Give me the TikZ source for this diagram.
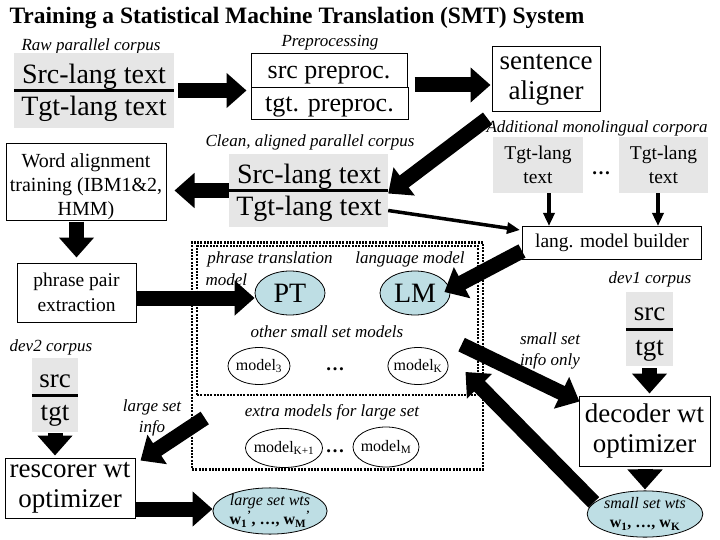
\documentclass[tikz,border=0pt]{standalone}
\usepackage{fontspec}
\setmainfont{Liberation Serif}
\usetikzlibrary{arrows.meta,shapes.geometric}
\definecolor{corpusgray}{RGB}{230,230,230}
\definecolor{wtblue}{RGB}{190,222,228}
\newcommand{\fsz}[2]{\fontsize{#1}{#2}\selectfont}
\begin{document}
\begin{tikzpicture}[x=1pt, y=-1pt,
    fat/.style={line width=15pt, -{Triangle[length=20pt,width=34pt]}},
    slim/.style={line width=3.5pt, -{Triangle[length=13pt,width=11pt]}},
    lab/.style={font=\fsz{17}{21}\itshape},
    box/.style={draw, line width=1pt, align=center, inner sep=0pt},
    corpus/.style={fill=corpusgray, inner sep=0pt},
    big/.style={anchor=base, font=\fsz{28}{32}},
    model/.style={ellipse, draw, line width=0.8pt, inner xsep=-3pt, inner ysep=0pt, font=\fsz{16}{18}},
    wts/.style={ellipse, draw, line width=0.8pt, fill=wtblue, inner sep=0pt, align=center},
    dotbox/.style={draw, line width=2.5pt, dash pattern=on 2pt off 1.3pt, inner sep=0pt}]
    \useasboundingbox (0,0) rectangle (720,540);
    \node[anchor=west, font=\fsz{23.5}{26}\bfseries] (title) at (6,18) {Training a Statistical Machine Translation (SMT) System};

    \node[lab] (rawlab) at (91,46) {Raw parallel corpus};
    \node[corpus, minimum width=160pt, minimum height=75pt] (raw) at (94,90.5) {};
    \node[big] (rawsrc) at (94,84) {Src-lang text};
    \node[big] (rawtgt) at (94,116) {Tgt-lang text};
    \draw[line width=3pt] (raw.west) -- (raw.east);

    \node[lab] (prelab) at (330,43) {Preprocessing};
    \node[box, minimum width=156pt, minimum height=34pt, text height=21pt, text depth=5pt, font=\fsz{26}{28}] (pre1) at (329,71) {src preproc.};
    \node[box, minimum width=157pt, minimum height=32pt, text height=21pt, text depth=5pt, font=\fsz{26}{28}] (pre2) at (329.5,104) {tgt. preproc.};
    \node[box, minimum width=108pt, minimum height=65pt, font=\fsz{27}{30}] (aligner) at (546,79.5) {sentence\\aligner};

    \node[lab] (cleanlab) at (310,142) {Clean, aligned parallel corpus};
    \node[corpus, minimum width=159pt, minimum height=73pt] (clean) at (308.5,190.5) {};
    \node[big] (cleansrc) at (309,184) {Src-lang text};
    \node[big] (cleantgt) at (309,215) {Tgt-lang text};
    \draw[line width=3pt] (clean.west) -- (clean.east);

    \node[box, minimum width=160pt, minimum height=76pt, font=\fsz{20}{24}] (wordal) at (86,182) {\rule{0pt}{24pt}Word alignment\\training (IBM1\&2,\\HMM)};
    \node[box, minimum width=119pt, minimum height=59pt, font=\fsz{19.5}{25}] (phrase) at (76.5,292.5) {phrase pair\\extraction};

    \node[lab] (monolab) at (597,128) {Additional monolingual corpora};
    \node[corpus, minimum width=90pt, minimum height=56pt, align=center, font=\fsz{19.5}{24}] (mono1) at (538,165) {Tgt-lang\\text};
    \node[corpus, minimum width=89pt, minimum height=56pt, align=center, font=\fsz{19.5}{24}] (mono2) at (663.5,165) {Tgt-lang\\text};
    \node[font=\fsz{19}{22}\bfseries] (monodots) at (601,173) {\ldots};
    \node[box, minimum width=179pt, minimum height=33pt, font=\fsz{19.5}{22}] (lmb) at (612,243) {lang. model builder};

    \node[dotbox, minimum width=291pt, minimum height=227pt] (extra) at (337.5,356) {};
    \node[dotbox, minimum width=281pt, minimum height=149pt] (small) at (337.5,320.5) {};
    \node[lab] (ptlab) at (270,259) {phrase translation};
    \node[lab, anchor=west] (ptlab2) at (202,280) {model};
    \node[lab] (lmlab) at (410,259) {language model};
    \node[wts, minimum width=70pt, minimum height=44pt, font=\fsz{28}{30}] (PT) at (290,293) {PT};
    \node[wts, minimum width=70pt, minimum height=44pt, font=\fsz{28}{30}] (LM) at (415,293) {LM};
    \node[lab] (otherlab) at (327,332) {other small set models};
    \node[model, minimum width=62pt, minimum height=37pt] (m3) at (259,366) {model\textsubscript{3}};
    \node[font=\fsz{19}{22}\bfseries] (smalldots) at (335,369) {\ldots};
    \node[model, minimum width=60pt, minimum height=37pt] (mK) at (418,366) {model\textsubscript{K}};
    \node[lab] (extralab) at (332,412) {extra models for large set};
    \node[model, minimum width=68pt, minimum height=39pt] (mK1) at (284,448) {model\textsubscript{K+1}};
    \node[font=\fsz{19}{22}\bfseries] (extradots) at (335,451) {\ldots};
    \node[model, minimum width=66pt, minimum height=40pt] (mM) at (386,447) {model\textsubscript{M}};

    \node[lab] (dev1lab) at (650,279) {dev1 corpus};
    \node[corpus, minimum width=47pt, minimum height=74pt] (dev1) at (649.5,329) {};
    \node[big, font=\fsz{27}{30}] (dev1src) at (649.5,320) {src};
    \node[big, font=\fsz{27}{30}] (dev1tgt) at (649.5,355) {tgt};
    \draw[line width=3pt] (dev1.west) -- (dev1.east);
    \node[box, minimum width=131pt, minimum height=70pt, font=\fsz{27}{30}] (dec) at (644.5,431) {decoder wt\\optimizer};
    \node[wts, font=\fsz{16}{19}] (smallwts) at (645,514) {{\itshape small set wts}\\{\bfseries w\textsubscript{1}, \ldots, w\textsubscript{K}}};
    \node[lab, align=center] (smallinfo) at (550,351) {small set\\info only};

    \node[lab] (dev2lab) at (51,347) {dev2 corpus};
    \node[corpus, minimum width=46pt, minimum height=74pt] (dev2) at (55,395) {};
    \node[big, font=\fsz{27}{30}] (dev2src) at (55,387) {src};
    \node[big, font=\fsz{27}{30}] (dev2tgt) at (55,420) {tgt};
    \draw[line width=3pt] (dev2.west) -- (dev2.east);
    \node[box, minimum width=130pt, minimum height=60pt, font=\fsz{27}{30}] (resc) at (70,488) {rescorer wt\\optimizer};
    \node[wts, font=\fsz{16}{19}] (largewts) at (270,511) {{\itshape large set wts}\\{\bfseries w\textsubscript{1}\textsuperscript{'}, \ldots, w\textsubscript{M}\textsuperscript{'}}};
    \node[lab, align=center] (largeinfo) at (152,418) {large set\\info};

    \draw[fat, shorten <=4pt, shorten >=4pt] (raw.east) -- (raw.east -| pre1.west);
    \draw[fat, shorten <=7pt, shorten >=1pt] (pre1.east |- 0,85) -- (aligner.west |- 0,85);
    \draw[fat] ([shift={(-4,6)}]aligner.south west) -- ([shift={(0,3)}]clean.east);
    \draw[fat, shorten >=8pt] (clean.west) -- (clean.west -| wordal.east);
    \draw[fat, shorten <=1pt, shorten >=5pt] (phrase.north |- wordal.south) -- (phrase.north);
    \draw[fat] (phrase.east |- 0,298) -- (PT.west |- 0,298);
    \draw[slim] ([shift={(0,20)}]clean.east) -- ([shift={(-2,4)}]lmb.north west);
    \coordinate (m1) at ([xshift=11pt]mono1.south);
    \coordinate (m2) at ([xshift=-5.5pt]mono2.south);
    \draw[slim] (m1) -- (m1 |- lmb.north);
    \draw[slim] (m2) -- (m2 |- lmb.north);
    \draw[fat] ([shift={(0,8)}]lmb.west) -- ([shift={(-6,-1)}]LM.east);
    \draw[fat, shorten <=2pt, shorten >=2pt] (dev1.south) -- (dev1.south |- dec.north);
    \draw[fat, shorten <=2pt, shorten >=1pt] (dec.south -| smallwts.north) -- (smallwts.north);
    \draw[fat] ([shift={(22,-8)}]mK.north east) -- ([shift={(1,6)}]dec.north west);
    \draw[fat] ([shift={(-10,5)}]smallwts.north west) -- ([shift={(17,6)}]mK.east);
    \draw[fat, shorten <=1pt, shorten >=2pt] (dev2.south) -- (dev2.south |- resc.north);
    \draw[fat] ([shift={(14,62)}]extra.west) -- ([shift={(5,3)}]resc.north east);
    \draw[fat] (resc.east |- 0,509) -- (largewts.west |- 0,509);
\end{tikzpicture}
\end{document}
